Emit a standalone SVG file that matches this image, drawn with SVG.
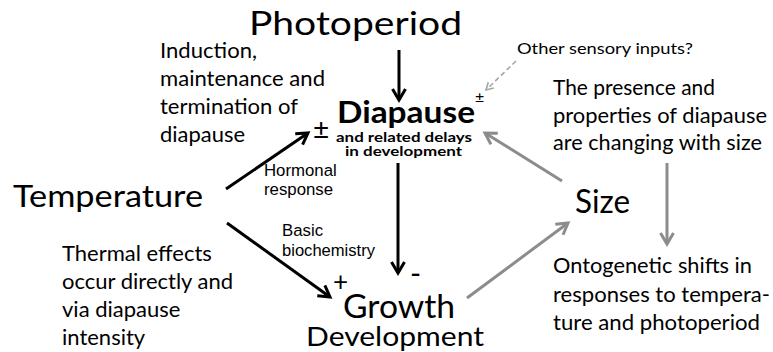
<svg xmlns="http://www.w3.org/2000/svg" width="773" height="352" viewBox="0 0 773 352">
<style>
text{font-family:Lato,"Open Sans","Liberation Sans",sans-serif;fill:#000}
.t{font-size:22px}
.big{font-size:32px}
.b{font-weight:bold}
.lab{font-family:"Liberation Sans",Arial,sans-serif;font-size:16.8px}
.blk{stroke:#000;stroke-width:3;fill:none}
.gry{stroke:#8c8c8c;stroke-width:3;fill:none}
.dsh{stroke:#a6a6a6;stroke-width:1.6;stroke-dasharray:5 3;fill:none}
</style>
<defs>
<marker id="ab" markerUnits="userSpaceOnUse" markerWidth="18" markerHeight="18" viewBox="0 0 18 18" refX="15" refY="9" orient="auto">
<path d="M4,2.5 L15,9 L4,15.5" fill="none" stroke="#000" stroke-width="3"/>
</marker>
<marker id="ag" markerUnits="userSpaceOnUse" markerWidth="18" markerHeight="18" viewBox="0 0 18 18" refX="15" refY="9" orient="auto">
<path d="M4,2.5 L15,9 L4,15.5" fill="none" stroke="#8c8c8c" stroke-width="3"/>
</marker>
<marker id="ad" markerUnits="userSpaceOnUse" markerWidth="12" markerHeight="12" viewBox="0 0 12 12" refX="10" refY="6" orient="auto">
<path d="M3,2 L10,6 L3,10" fill="none" stroke="#a6a6a6" stroke-width="1.6"/>
</marker>
</defs>
<g id="connectors">
<line class="blk" x1="399" y1="50" x2="399" y2="100" marker-end="url(#ab)"/>
<line class="blk" x1="226" y1="189" x2="308" y2="133" marker-end="url(#ab)"/>
<line class="blk" x1="227" y1="223" x2="330" y2="297" marker-end="url(#ab)"/>
<line class="blk" x1="398" y1="163" x2="398" y2="273" marker-end="url(#ab)"/>
<line class="gry" x1="467" y1="298" x2="568" y2="223" marker-end="url(#ag)"/>
<line class="gry" x1="562" y1="181" x2="485" y2="133" marker-end="url(#ag)"/>
<line class="gry" x1="667" y1="163" x2="667" y2="244" marker-end="url(#ag)"/>
<line class="dsh" x1="516" y1="61" x2="486" y2="90" marker-end="url(#ad)"/>
</g>
<g id="photoperiod"><text class="big" x="249" y="35" textLength="213" lengthAdjust="spacingAndGlyphs">Photoperiod</text></g>
<g id="diapause">
<text class="b" x="337" y="123" font-size="30" textLength="138" lengthAdjust="spacingAndGlyphs">Diapause</text>
<text x="475" y="103" font-size="16">±</text>
<text x="313" y="139" font-size="28">±</text>
<text class="b" x="336" y="142" font-size="13" textLength="136" lengthAdjust="spacingAndGlyphs">and related delays</text>
<text class="b" x="345" y="156" font-size="13" textLength="117" lengthAdjust="spacingAndGlyphs">in development</text>
</g>
<g id="temperature"><text x="13" y="207" font-size="31" textLength="190" lengthAdjust="spacingAndGlyphs">Temperature</text></g>
<g id="size"><text class="big" x="575" y="213" textLength="55" lengthAdjust="spacingAndGlyphs">Size</text></g>
<g id="growth">
<text class="big" x="343" y="318" textLength="112" lengthAdjust="spacingAndGlyphs">Growth</text>
<text x="306" y="346" font-size="26.5" textLength="178" lengthAdjust="spacingAndGlyphs">Development</text>
<text x="333" y="291" font-family="Liberation Sans, Arial, sans-serif" font-size="26">+</text>
<text x="410" y="284" font-size="30">-</text>
</g>
<g id="labels">
<text class="lab" x="264" y="176">Hormonal</text>
<text class="lab" x="264" y="195">response</text>
<text class="lab" x="282" y="236">Basic</text>
<text class="lab" x="282" y="256" textLength="93" lengthAdjust="spacingAndGlyphs">biochemistry</text>
<text x="517" y="54" font-size="15" textLength="176" lengthAdjust="spacingAndGlyphs">Other sensory inputs?</text>
</g>
<g id="note-induction" class="t">
<text x="160" y="58" textLength="97" lengthAdjust="spacingAndGlyphs">Induction,</text>
<text x="160" y="86" textLength="165" lengthAdjust="spacingAndGlyphs">maintenance and</text>
<text x="160" y="114" textLength="138" lengthAdjust="spacingAndGlyphs">termination of</text>
<text x="160" y="142" textLength="85" lengthAdjust="spacingAndGlyphs">diapause</text>
</g>
<g id="note-size" class="t">
<text x="553" y="95" textLength="162" lengthAdjust="spacingAndGlyphs">The presence and</text>
<text x="553" y="123" textLength="214" lengthAdjust="spacingAndGlyphs">properties of diapause</text>
<text x="553" y="150" textLength="209" lengthAdjust="spacingAndGlyphs">are changing with size</text>
</g>
<g id="note-thermal" class="t">
<text x="62" y="261">Thermal effects</text>
<text x="62" y="289">occur directly and</text>
<text x="62" y="317">via diapause</text>
<text x="62" y="345">intensity</text>
</g>
<g id="note-ontogenetic" class="t">
<text x="553" y="273" textLength="199" lengthAdjust="spacingAndGlyphs">Ontogenetic shifts in</text>
<text x="553" y="302" textLength="217" lengthAdjust="spacingAndGlyphs">responses to tempera-</text>
<text x="553" y="330" textLength="207" lengthAdjust="spacingAndGlyphs">ture and photoperiod</text>
</g>
</svg>
